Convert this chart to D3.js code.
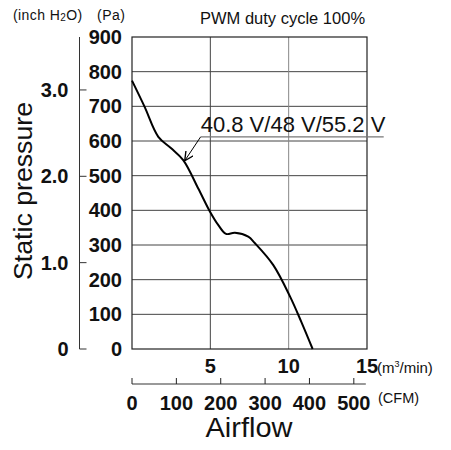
<!DOCTYPE html>
<html>
<head>
<meta charset="utf-8">
<script src="https://cdn.jsdelivr.net/npm/d3@7"></script>
<style>
  body { margin: 0; background: #fff; }
  svg { display: block; }
  .num { font-family: "Liberation Sans Narrow", "Liberation Sans", sans-serif; font-weight: bold; font-size: 20px; fill: #111; }
  .lbl { font-family: "Liberation Sans", Arial, sans-serif; fill: #111; }
</style>
</head>
<body>
<div id="chart"></div>
<script>
// data
var flow = [0, 0.8, 1.68, 2.5, 3.27, 4.23, 4.98, 5.5, 6.0, 6.57, 7.42, 7.85, 9.02, 10.09, 10.8, 11.53];   // m3/min
var pressure = [774, 699, 612, 579, 545, 463, 396, 358, 332, 335, 324, 305, 242, 151, 79, 0];           // Pa
var paTicks = [0, 100, 200, 300, 400, 500, 600, 700, 800, 900];
var inchTicks = [0, 1.0, 2.0, 3.0];
var flowTicks = [5, 10, 15];
var cfmTicks = [0, 100, 200, 300, 400, 500];
var curveLabel = "40.8 V/48 V/55.2 V";

var margin = {top: 37, left: 132},
    width = 235,
    height = 312;

var svg = d3.select("#chart")
  .append("svg")
    .attr("width", 451)
    .attr("height", 450);

var g = svg.append("g")
    .attr("transform", `translate(${margin.left},${margin.top})`);

var x = d3.scaleLinear().domain([0, 15]).range([0, width]);
var y = d3.scaleLinear().domain([0, 900]).range([height, 0]);
// 1 inch H2O = 249.09 Pa
var yIn = d3.scaleLinear().domain([0, 900 / 249.09]).range([height, 0]);
// 1 CFM = 0.0283168 m3/min
var xCfm = d3.scaleLinear().domain([0, 15 / 0.0283168]).range([0, width]);

// grid
g.selectAll(".hgrid")
  .data(paTicks.slice(1, -1))
  .join("line")
    .attr("x1", 0).attr("x2", width)
    .attr("y1", d => y(d)).attr("y2", d => y(d))
    .attr("stroke", "#444").attr("stroke-width", 1);

g.selectAll(".vgrid")
  .data(flowTicks.slice(0, -1))
  .join("line")
    .attr("x1", d => x(d)).attr("x2", d => x(d))
    .attr("y1", 0).attr("y2", height)
    .attr("stroke", d => d == 10 ? "#888" : "#444").attr("stroke-width", 1);

// frame
g.append("rect")
  .attr("x", 0).attr("y", 0)
  .attr("width", width).attr("height", height)
  .attr("fill", "none")
  .attr("stroke", "#222").attr("stroke-width", 1.2);

// Pa labels
g.selectAll(".pa")
  .data(paTicks)
  .join("text")
    .attr("class", "num")
    .attr("x", -10)
    .attr("y", d => y(d) + 7)
    .attr("text-anchor", "end")
    .text(d => d);

// inch H2O axis
var inchAxis = g.append("g").attr("transform", "translate(-52.5,0)");
inchAxis.append("line")
  .attr("x1", 0).attr("x2", 0)
  .attr("y1", 0).attr("y2", height)
  .attr("stroke", "#333").attr("stroke-width", 1);
inchAxis.selectAll("line.t")
  .data(inchTicks)
  .join("line")
    .attr("class", "t")
    .attr("x1", 0).attr("x2", 7)
    .attr("y1", d => yIn(d)).attr("y2", d => yIn(d))
    .attr("stroke", "#333").attr("stroke-width", 1);
inchAxis.selectAll("text")
  .data(inchTicks)
  .join("text")
    .attr("class", "num")
    .attr("x", -11)
    .attr("y", d => yIn(d) + 7)
    .attr("text-anchor", "end")
    .text(d => d == 0 ? "0" : d.toFixed(1));

// m3/min labels
g.selectAll(".fl")
  .data(flowTicks)
  .join("text")
    .attr("class", "num")
    .attr("x", d => x(d))
    .attr("y", height + 24)
    .attr("text-anchor", "middle")
    .text(d => d);

// CFM axis
var cfm = g.append("g").attr("transform", `translate(0,${height + 35})`);
cfm.append("line")
  .attr("x1", 0).attr("x2", xCfm(500) + 12)
  .attr("y1", 0).attr("y2", 0)
  .attr("stroke", "#999").attr("stroke-width", 2);
cfm.selectAll("line.t")
  .data(cfmTicks)
  .join("line")
    .attr("class", "t")
    .attr("x1", d => xCfm(d)).attr("x2", d => xCfm(d))
    .attr("y1", 0).attr("y2", -6)
    .attr("stroke", "#222").attr("stroke-width", 1);
cfm.selectAll("text")
  .data(cfmTicks)
  .join("text")
    .attr("class", "num")
    .attr("x", d => xCfm(d))
    .attr("y", 26)
    .attr("text-anchor", "middle")
    .text(d => d);

// curve
var line = d3.line()
  .x((d, i) => x(flow[i]))
  .y(d => y(d))
  .curve(d3.curveCatmullRom);

g.append("path")
  .datum(pressure)
  .attr("d", line)
  .attr("fill", "none")
  .attr("stroke", "#000")
  .attr("stroke-width", 2);

// annotation
svg.append("defs").append("marker")
    .attr("id", "arrow")
    .attr("viewBox", "0 0 10 10")
    .attr("refX", 10).attr("refY", 5)
    .attr("markerWidth", 9).attr("markerHeight", 9)
    .attr("orient", "auto")
  .append("path")
    .attr("d", "M0,0 L10,5 L0,10")
    .attr("fill", "none")
    .attr("stroke", "#000")
    .attr("stroke-width", 1.5);

var ax = x(3.3), ay = y(540);
g.append("line")
  .attr("x1", ax + 17).attr("y1", ay - 25)
  .attr("x2", ax + 1).attr("y2", ay - 1)
  .attr("stroke", "#000").attr("stroke-width", 1)
  .attr("marker-end", "url(#arrow)");
g.append("line")
  .attr("x1", ax + 17).attr("x2", ax + 200)
  .attr("y1", ay - 25).attr("y2", ay - 25)
  .attr("stroke", "#777").attr("stroke-width", 1.2);
g.append("text")
  .attr("class", "lbl")
  .attr("x", ax + 17)
  .attr("y", ay - 30)
  .style("font-size", "22px")
  .text(curveLabel);

// titles and units
svg.append("text").attr("class", "lbl")
  .attr("x", 200).attr("y", 24)
  .style("font-size", "16.5px")
  .text("PWM duty cycle 100%");

var inchLbl = svg.append("text").attr("class", "lbl")
  .attr("x", 13).attr("y", 20)
  .style("font-size", "14px")
  .style("letter-spacing", "0.4px");
inchLbl.append("tspan").text("(inch H");
inchLbl.append("tspan").style("font-size", "10px").attr("dy", 1).text("2");
inchLbl.append("tspan").attr("dy", -1).text("O)");

svg.append("text").attr("class", "lbl")
  .attr("x", 97).attr("y", 20)
  .style("font-size", "14px")
  .style("letter-spacing", "0.5px")
  .text("(Pa)");

var m3 = svg.append("text").attr("class", "lbl")
  .attr("x", 377).attr("y", 373)
  .style("font-size", "15px");
m3.append("tspan").text("(m");
m3.append("tspan").style("font-size", "9px").attr("dy", -6).text("3");
m3.append("tspan").attr("dy", 6).text("/min)");

svg.append("text").attr("class", "lbl")
  .attr("x", 378).attr("y", 403)
  .style("font-size", "14.5px")
  .text("(CFM)");

svg.append("text").attr("class", "lbl")
  .attr("x", 249).attr("y", 437)
  .attr("text-anchor", "middle")
  .attr("textLength", 87)
  .attr("lengthAdjust", "spacingAndGlyphs")
  .style("font-size", "27px")
  .text("Airflow");

svg.append("text").attr("class", "lbl")
  .attr("transform", "translate(32,191) rotate(-90)")
  .attr("text-anchor", "middle")
  .attr("textLength", 178)
  .attr("lengthAdjust", "spacingAndGlyphs")
  .style("font-size", "26px")
  .text("Static pressure");
</script>
</body>
</html>
